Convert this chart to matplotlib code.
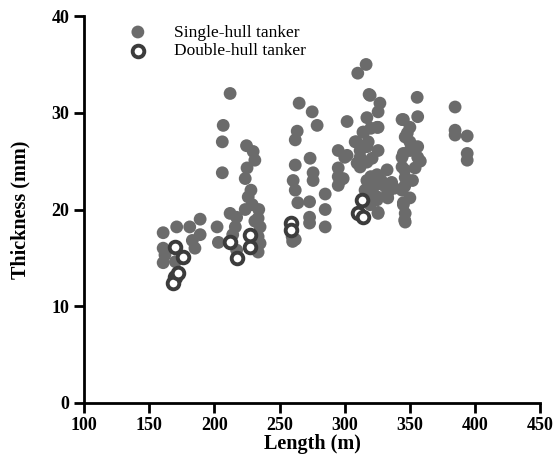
import matplotlib
matplotlib.use("Agg")
import matplotlib.pyplot as plt

single_x = [160.6, 160.6, 162, 160.6, 170, 171, 185, 181, 189, 183, 189, 202, 203,
            212, 206.7, 206, 206, 224.6, 229.7, 231, 225, 223.6, 228, 225.9, 229, 223.6,
            212, 217, 233.5, 235, 233.5, 233.5, 216, 214, 217, 235, 234, 231,
            265, 275, 278.8, 263.5, 262, 273.4, 262, 275.7, 260.4, 275.7, 262, 285,
            264, 273, 285, 273, 285, 273, 259.6, 260, 262,
            295, 300, 295, 296.5, 295, 301.8, 301.8, 298.8, 295,
            316.4, 310, 318.7, 327, 325.6, 317, 308, 314.5, 320, 325.6, 311.8, 317,
            325.6, 317, 309.5, 332.5, 320, 327, 320, 325, 325.6, 333, 319.5, 324.8,
            314, 309, 318, 311.8, 321, 311.8, 324.8, 317, 329.5, 321.9, 333, 315.6,
            333, 324.8, 319.5, 325.6, 330, 328, 322, 336, 338,
            345, 348, 345, 346, 346, 345, 346, 355.6, 356, 344, 350, 346.4, 350, 356,
            344, 356, 350, 354, 344, 346.4, 344, 350, 345, 346.4, 346.4, 352, 358,
            384.7, 384.7, 384.7, 394, 394, 394]
single_y = [17.6, 16.0, 15.3, 14.5, 14.6, 18.2, 16.0, 18.2, 19.0, 16.8, 17.4, 18.2, 16.6,
            32.0, 28.7, 27.0, 23.8, 26.6, 26.0, 25.1, 24.3, 23.2, 22.0, 21.3, 20.5, 20.0,
            19.6, 19.2, 19.1, 18.2, 17.2, 15.6, 18.2, 17.4, 15.8, 16.5, 20.0, 18.8,
            31.0, 30.1, 28.7, 28.1, 27.2, 25.3, 24.6, 23.8, 23.0, 23.0, 22.0, 21.6,
            20.7, 20.8, 20.0, 19.2, 18.2, 18.6, 17.2, 16.7, 16.9,
            26.1, 25.4, 24.3, 23.0, 22.5, 29.1, 25.6, 23.2, 23.4,
            35.0, 34.1, 31.9, 31.0, 30.1, 29.5, 27.0, 28.0, 28.4, 28.5, 26.1, 26.5,
            26.1, 24.9, 24.8, 24.1, 23.4, 22.7, 22.0, 21.3, 19.7, 21.7, 31.8, 28.5,
            28.0, 27.0, 27.0, 25.4, 25.3, 24.4, 23.6, 23.0, 22.7, 22.3, 22.0, 22.0,
            21.2, 21.0, 20.5, 19.6, 22.5, 23.0, 21.0, 22.8, 22.2,
            29.3, 27.9, 25.8, 24.1, 22.4, 20.7, 18.9, 31.6, 29.6, 29.3, 28.5, 27.5, 27.0, 26.5,
            25.4, 25.4, 26.1, 24.3, 24.4, 23.3, 22.0, 21.2, 20.5, 19.6, 18.7, 23.0, 25.0,
            30.6, 28.2, 27.7, 27.6, 25.8, 25.1]

double_x = [170, 176, 170, 168, 172, 212, 217, 227, 227, 258.6, 258.8, 313, 310, 314]
double_y = [16.1, 15.1, 13.0, 12.4, 13.4, 16.6, 15.0, 16.1, 17.4, 18.6, 17.9, 21.0, 19.6, 19.2]

x_ticks = [100, 150, 200, 250, 300, 350, 400, 450]
y_ticks = [0, 10, 20, 30, 40]

plt.rcParams['font.family'] = ['Liberation Serif', 'DejaVu Serif']

fig = plt.figure(figsize=(5.54, 4.74), dpi=100)
ax = fig.add_axes([0.152, 0.150, 0.823, 0.816])

ax.scatter(single_x, single_y, s=85, color='#6b6b6b', edgecolors='none',
           label='Single-hull tanker', zorder=2)
ax.scatter(double_x, double_y, s=70, facecolors='white', edgecolors='#3c3c3c',
           linewidths=2.8, label='Double-hull tanker', zorder=3)

ax.set_xlim(100, 450)
ax.set_ylim(0, 40)
ax.set_xticks(x_ticks)
ax.set_yticks(y_ticks)
for s in ['top', 'right']:
    ax.spines[s].set_visible(False)
for s in ['left', 'bottom']:
    ax.spines[s].set_linewidth(2)
ax.tick_params(direction='out', length=7, width=2, labelsize=13)
for lab in ax.get_xticklabels() + ax.get_yticklabels():
    lab.set_fontweight('bold')
ax.set_xlabel('Length (m)', fontsize=14.5, fontweight='bold', labelpad=0)
ax.set_ylabel('Thickness (mm)', fontsize=14.5, fontweight='bold', labelpad=15)

leg = ax.legend(loc='upper left', bbox_to_anchor=(0.072, 1.01), frameon=False,
                fontsize=12.5, handlelength=1.0, handletextpad=1.6,
                labelspacing=0.15, borderaxespad=0.3)

fig.savefig('out.png', dpi=100)
